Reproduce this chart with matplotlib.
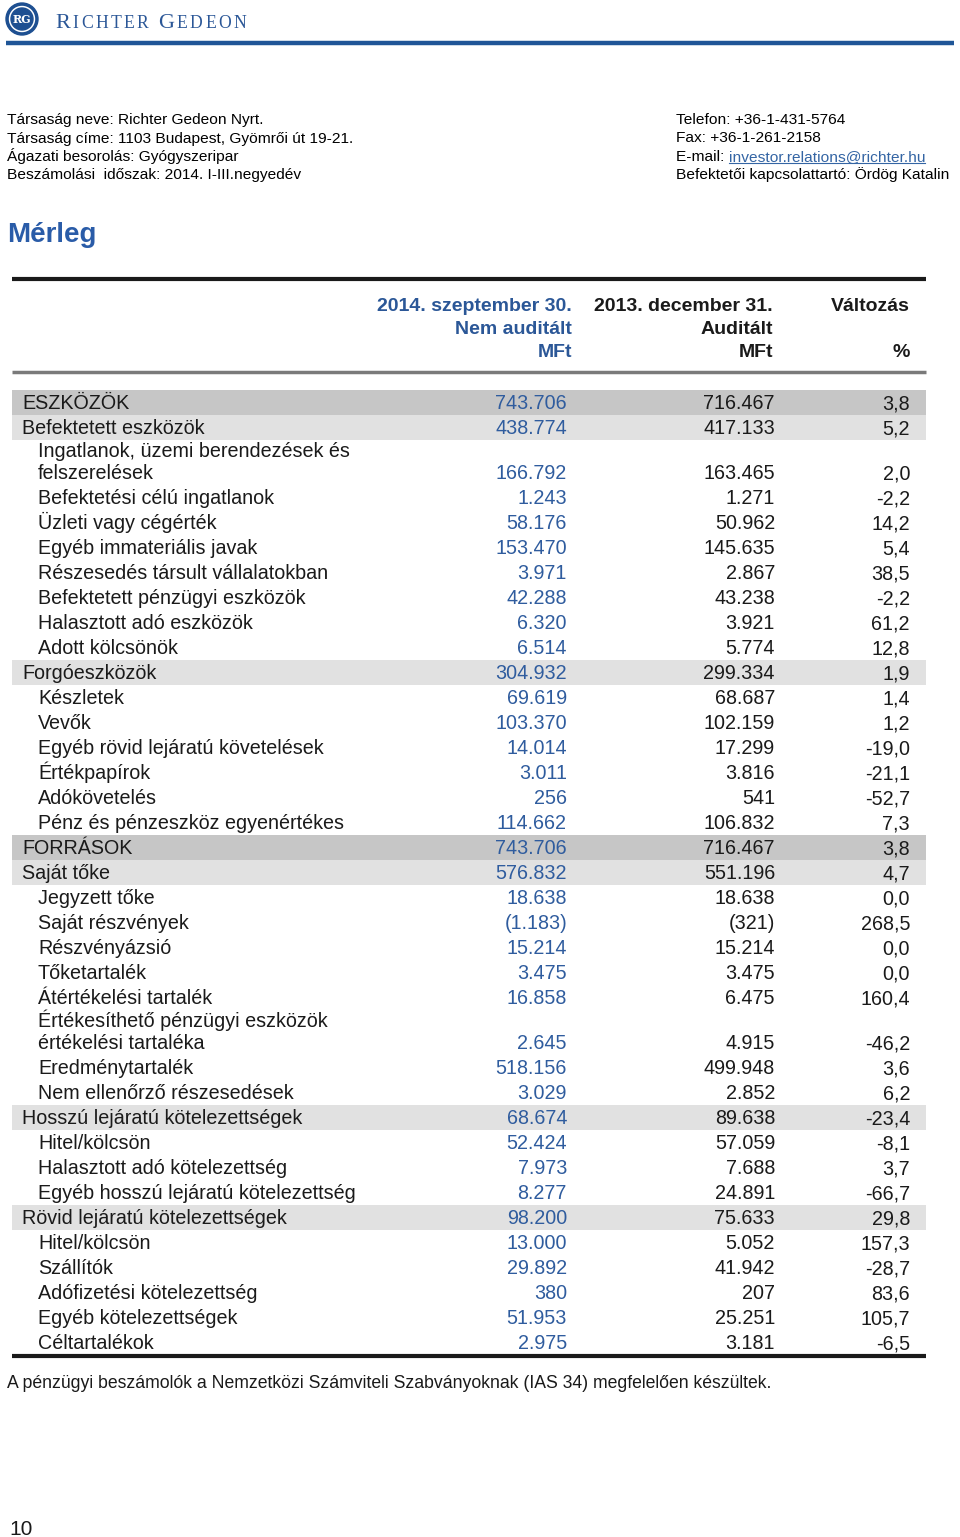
import numpy as np
import matplotlib.pyplot as plt
from matplotlib.patches import Circle, Rectangle

plt.rcParams['font.family'] = ['Liberation Sans', 'DejaVu Sans']

# --- data -------------------------------------------------------------
labels = [
    'ESZKÖZÖK', 'Befektetett eszközök',
    'Ingatlanok, üzemi berendezések és\nfelszerelések',
    'Befektetési célú ingatlanok', 'Üzleti vagy cégérték',
    'Egyéb immateriális javak', 'Részesedés társult vállalatokban',
    'Befektetett pénzügyi eszközök', 'Halasztott adó eszközök',
    'Adott kölcsönök', 'Forgóeszközök', 'Készletek', 'Vevők',
    'Egyéb rövid lejáratú követelések', 'Értékpapírok', 'Adókövetelés',
    'Pénz és pénzeszköz egyenértékes', 'FORRÁSOK', 'Saját tőke',
    'Jegyzett tőke', 'Saját részvények', 'Részvényázsió', 'Tőketartalék',
    'Átértékelési tartalék',
    'Értékesíthető pénzügyi eszközök\nértékelési tartaléka',
    'Eredménytartalék', 'Nem ellenőrző részesedések',
    'Hosszú lejáratú kötelezettségek', 'Hitel/kölcsön',
    'Halasztott adó kötelezettség', 'Egyéb hosszú lejáratú kötelezettség',
    'Rövid lejáratú kötelezettségek', 'Hitel/kölcsön', 'Szállítók',
    'Adófizetési kötelezettség', 'Egyéb kötelezettségek', 'Céltartalékok',
]
val_2014 = [743706, 438774, 166792, 1243, 58176, 153470, 3971, 42288, 6320,
            6514, 304932, 69619, 103370, 14014, 3011, 256, 114662, 743706,
            576832, 18638, -1183, 15214, 3475, 16858, 2645, 518156, 3029,
            68674, 52424, 7973, 8277, 98200, 13000, 29892, 380, 51953, 2975]
val_2013 = [716467, 417133, 163465, 1271, 50962, 145635, 2867, 43238, 3921,
            5774, 299334, 68687, 102159, 17299, 3816, 541, 106832, 716467,
            551196, 18638, -321, 15214, 3475, 6475, 4915, 499948, 2852,
            89638, 57059, 7688, 24891, 75633, 5052, 41942, 207, 25251, 3181]
change = [3.8, 5.2, 2.0, -2.2, 14.2, 5.4, 38.5, -2.2, 61.2, 12.8, 1.9, 1.4,
          1.2, -19.0, -21.1, -52.7, 7.3, 3.8, 4.7, 0.0, 268.5, 0.0, 0.0,
          160.4, -46.2, 3.6, 6.2, -23.4, -8.1, 3.7, -66.7, 29.8, 157.3,
          -28.7, 83.6, 105.7, -6.5]
# 0 = plain sub-item, 1 = group (light band), 2 = main total (dark band)
row_kind = [2, 1, 0, 0, 0, 0, 0, 0, 0, 0, 1, 0, 0, 0, 0, 0, 0, 2, 1, 0, 0,
            0, 0, 0, 0, 0, 0, 1, 0, 0, 0, 1, 0, 0, 0, 0, 0]

info_left = ['Társaság neve: Richter Gedeon Nyrt.',
             'Társaság címe: 1103 Budapest, Gyömrői út 19-21.',
             'Ágazati besorolás: Gyógyszeripar',
             'Beszámolási  időszak: 2014. I-III.negyedév']
info_right = ['Telefon: +36-1-431-5764', 'Fax: +36-1-261-2158',
              'E-mail: ', 'Befektetői kapcsolattartó: Ördög Katalin']
email = 'investor.relations@richter.hu'


def fmt_num(v):
    s = f'{abs(v):,}'.replace(',', '.')
    return f'({s})' if v < 0 else s


def fmt_pct(v):
    return f'{v:.1f}'.replace('.', ',')


BLUE = '#2b5797'
NUM_BLUE = '#2f5c9e'
DARK_BAND = '#c6c6c6'
LIGHT_BAND = '#e1e1e1'

fig = plt.figure(figsize=(9.6, 15.37), dpi=100)
ax = fig.add_axes([0, 0, 1, 1])
ax.set_xlim(0, 960)
ax.set_ylim(1537, 0)
ax.axis('off')

# --- logo / page header ----------------------------------------------
ax.add_patch(Circle((22, 19), 16, color='#1d4f91'))
ax.add_patch(Circle((22, 19), 12.5, color='white'))
ax.add_patch(Circle((22, 19), 11, color='#1d4f91'))
ax.text(22, 19.5, 'RG', color='white', fontsize=8, fontweight='bold',
        ha='center', va='center', family='DejaVu Serif')

fig.canvas.draw()
renderer = fig.canvas.get_renderer()
inv = ax.transData.inverted()
x = 55
for word in ['RICHTER', 'GEDEON']:
    for ci, ch in enumerate(word):
        size = 16 if ci == 0 else 12.7
        t = ax.text(x, 28, ch, color=BLUE, fontsize=size, ha='left',
                    va='baseline', family='Liberation Serif')
        bb = t.get_window_extent(renderer)
        x = inv.transform((bb.x1, 0))[0] + 2.5
    x += 7
ax.plot([6, 954], [43, 43], color='#1f5597', lw=3.2, solid_capstyle='butt')

info_fs = 11.15
for i, s in enumerate(info_left):
    ax.text(7, 124 + i * 18.5, s, fontsize=info_fs, va='baseline', ha='left')
for i, s in enumerate(info_right):
    yy = 124 + i * 18.5
    t = ax.text(676, yy, s, fontsize=info_fs, va='baseline', ha='left')
    if s.startswith('E-mail'):
        bb = t.get_window_extent(renderer)
        x0 = inv.transform((bb.x1, 0))[0]
        te = ax.text(x0, yy, email, fontsize=info_fs, va='baseline',
                     ha='left', color='#3465a4')
        bb2 = te.get_window_extent(renderer)
        x1 = inv.transform((bb2.x1, 0))[0]
        ax.plot([x0, x1], [yy + 2] * 2, color='#3465a4', lw=0.8)

ax.text(7, 242, 'Mérleg', fontsize=20, fontweight='bold', color='#2a5ca8',
        va='baseline', ha='left')

# --- table header -----------------------------------------------------
TL, TR = 12, 926
ax.plot([TL, TR], [279, 279], color='#1a1a1a', lw=3, solid_capstyle='butt')
hdr = dict(fontsize=14, fontweight='bold', va='baseline', ha='right')
for yy, (c1, c2, c3) in zip([311, 334, 357],
                            [('2014. szeptember 30.', '2013. december 31.', 'Változás'),
                             ('Nem auditált', 'Auditált', ''),
                             ('MFt', 'MFt', '%')]):
    ax.text(572, yy, c1, color=BLUE, **hdr)
    ax.text(773, yy, c2, color='#1a1a1a', **hdr)
    ax.text(910, yy, c3, color='#1a1a1a', **hdr)
ax.plot([TL, TR], [372, 372], color='#7a7a7a', lw=2.5, solid_capstyle='butt')

# --- table rows -------------------------------------------------------
step, extra = 25, 20
y = 402 - step
fs = 14.2
bl = 7.2  # baseline offset from row centre
for lab, a, b, c, kind in zip(labels, val_2014, val_2013, change, row_kind):
    lines = lab.split('\n')
    y += step + extra * (len(lines) - 1)
    if kind:
        ax.add_patch(Rectangle((TL, y - 12.5), TR - TL, 25,
                               color=DARK_BAND if kind == 2 else LIGHT_BAND,
                               lw=0, zorder=0))
    xl = 22 if kind else 38
    for j, ln in enumerate(lines):
        ax.text(xl, y + bl - 22 * (len(lines) - 1 - j), ln, fontsize=fs,
                va='baseline', ha='left', color='#1a1a1a')
    ax.text(567, y + bl, fmt_num(a), fontsize=fs, va='baseline', ha='right',
            color=NUM_BLUE)
    ax.text(775, y + bl, fmt_num(b), fontsize=fs, va='baseline', ha='right',
            color='#1a1a1a')
    ax.text(910, y + bl, fmt_pct(c), fontsize=fs, va='baseline', ha='right',
            color='#1a1a1a')

ax.plot([TL, TR], [y + 14, y + 14], color='#1a1a1a', lw=3,
        solid_capstyle='butt')

ax.text(7, 1388, 'A pénzügyi beszámolók a Nemzetközi Számviteli Szabványoknak '
        '(IAS 34) megfelelően készültek.', fontsize=12.7, va='baseline',
        ha='left', color='#1a1a1a')
ax.text(9, 1535, '10', fontsize=15, va='baseline', ha='left', color='#1a1a1a')

fig.savefig('out.png', dpi=100)
